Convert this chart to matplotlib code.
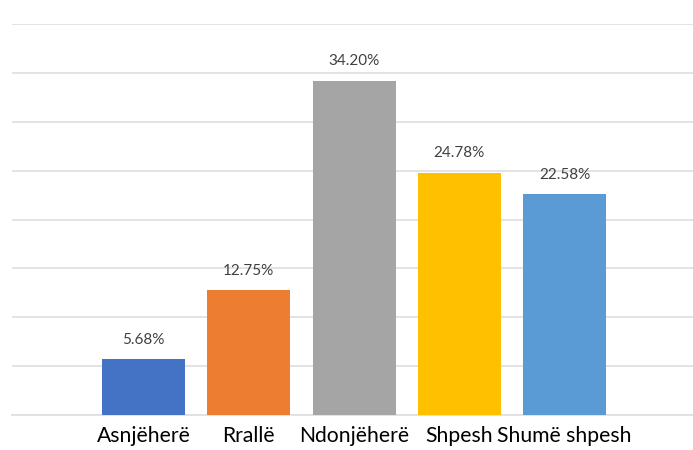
import matplotlib
matplotlib.use('Agg')
import matplotlib.pyplot as plt

categories = ['Asnjëherë', 'Rrallë', 'Ndonjëherë', 'Shpesh', 'Shumë shpesh']
values = [5.68, 12.75, 34.20, 24.78, 22.58]
colors = ['#4472C4', '#ED7D31', '#A5A5A5', '#FFC000', '#5B9BD5']

plt.rcParams['font.family'] = ['Lato', 'DejaVu Sans']

fig = plt.figure(figsize=(6.93, 4.5), dpi=100)
ax = fig.add_axes([12 / 693, 1 - 415 / 450, 1 - 12 / 693, (415 - 24) / 450])

x = list(range(len(categories)))
bars = ax.bar(x, values, width=0.79, color=colors, zorder=3)

for b, v in zip(bars, values):
    ax.text(b.get_x() + b.get_width() / 2, v + 1.3, f'{v:.2f}%',
            ha='center', va='bottom', fontsize=11, color='#404040')

ax.set_xlim(-1.25, 5.22)
ax.set_ylim(0, 40)
ax.set_yticks(range(0, 41, 5))
ax.yaxis.grid(True, color='#E0E0E0', linewidth=1.3, zorder=0)
ax.tick_params(axis='y', left=False, labelleft=False)
ax.set_xticks(x)
ax.set_xticklabels(categories, fontsize=15.2, color='#000000')
ax.tick_params(axis='x', length=0, pad=8)
for s in ['top', 'right', 'left']:
    ax.spines[s].set_visible(False)
ax.spines['bottom'].set_color('#E0E0E0')
ax.spines['bottom'].set_linewidth(1.3)

fig.savefig('out.png', dpi=100)
